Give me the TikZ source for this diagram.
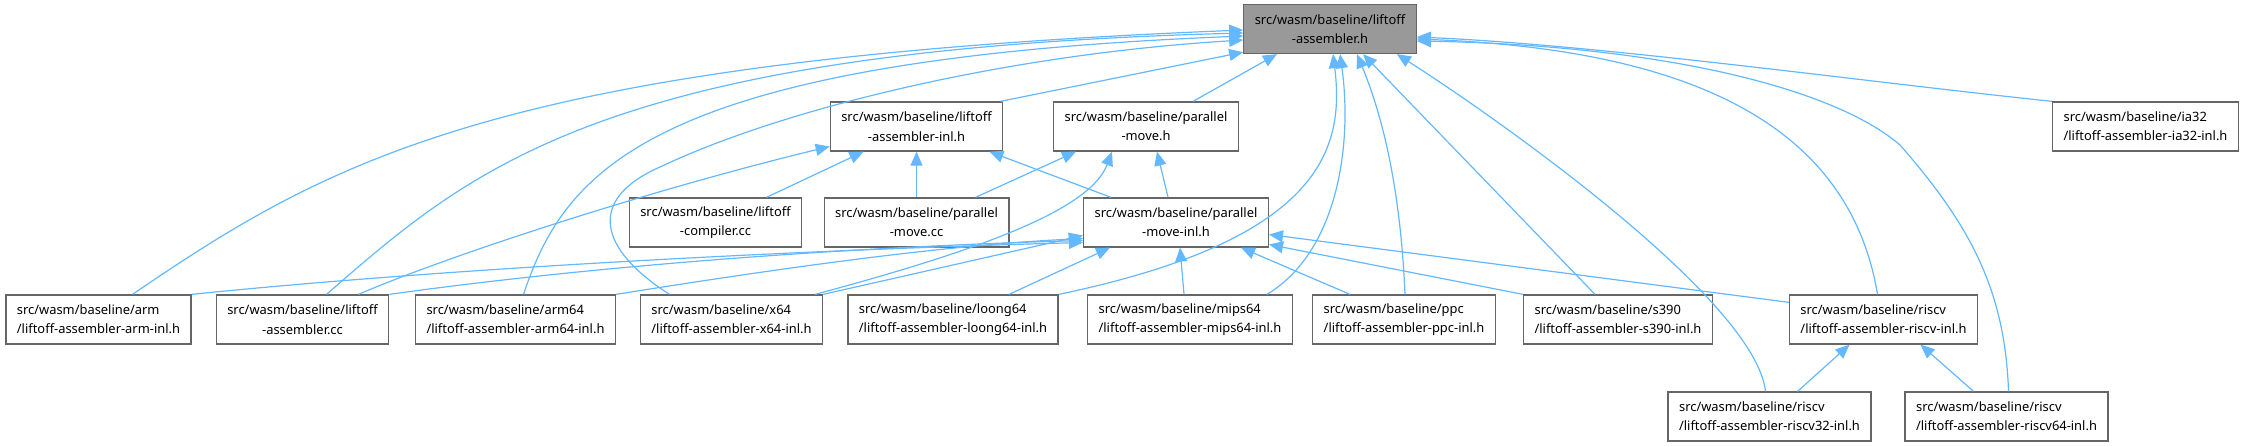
\documentclass[tikz,border=0pt]{standalone}
\usepackage{fontspec}
\setmainfont{Noto Sans}
\usepackage{tikz}
\usetikzlibrary{arrows.meta,positioning,calc}
\definecolor{edgeblue}{HTML}{63B8FF}
\definecolor{boxgray}{HTML}{666666}
\definecolor{rootgray}{HTML}{999999}
\tikzset{
  block/.style={draw=boxgray, rectangle, line width=0.65pt, fill=white, minimum height=24.5pt, inner xsep=5.5pt, inner ysep=2pt, font=\fontsize{6.45}{9.65}\selectfont},
  cblock/.style={block, align=center},
  lblock/.style={block, align=left},
  arr/.style={-{Triangle[length=7pt,width=6pt]}, draw=edgeblue, line width=0.6pt},
}

\begin{document}
\begin{tikzpicture}[x=0.5pt, y=-0.5pt]
\useasboundingbox (0,0) rectangle (2246,446);
% header
\node[cblock, fill=rootgray] (root) at (1330,29) {src/wasm/baseline/liftoff\\-assembler.h};
% second row
\node[cblock] (inl) at (916.5,126.5) {src/wasm/baseline/liftoff\\-assembler-inl.h};
\node[cblock] (pmh) at (1146,126.5) {src/wasm/baseline/parallel\\-move.h};
\node[lblock] (ia32) at (2145.5,126.5) {src/wasm/baseline/ia32\\/liftoff-assembler-ia32-inl.h};
% third row
\node[cblock] (comp) at (715.5,222.5) {src/wasm/baseline/liftoff\\-compiler.cc};
\node[cblock] (pmcc) at (916.5,222.5) {src/wasm/baseline/parallel\\-move.cc};
\node[cblock] (pminl) at (1176,222.5) {src/wasm/baseline/parallel\\-move-inl.h};
% fourth row
\node[lblock] (arm) at (98.5,319.5) {src/wasm/baseline/arm\\/liftoff-assembler-arm-inl.h};
\node[cblock] (lacc) at (302.5,319.5) {src/wasm/baseline/liftoff\\-assembler.cc};
\node[lblock] (arm64) at (515.5,319.5) {src/wasm/baseline/arm64\\/liftoff-assembler-arm64-inl.h};
\node[lblock] (x64) at (731.5,319.5) {src/wasm/baseline/x64\\/liftoff-assembler-x64-inl.h};
\node[lblock] (loong) at (953,319.5) {src/wasm/baseline/loong64\\/liftoff-assembler-loong64-inl.h};
\node[lblock] (mips) at (1190,319.5) {src/wasm/baseline/mips64\\/liftoff-assembler-mips64-inl.h};
\node[lblock] (ppc) at (1404,319.5) {src/wasm/baseline/ppc\\/liftoff-assembler-ppc-inl.h};
\node[lblock] (s390) at (1618,319.5) {src/wasm/baseline/s390\\/liftoff-assembler-s390-inl.h};
\node[lblock] (rv) at (1883.5,319.5) {src/wasm/baseline/riscv\\/liftoff-assembler-riscv-inl.h};
% bottom row
\node[lblock] (rv32) at (1769.5,416.5) {src/wasm/baseline/riscv\\/liftoff-assembler-riscv32-inl.h};
\node[lblock] (rv64) at (2006.5,416.5) {src/wasm/baseline/riscv\\/liftoff-assembler-riscv64-inl.h};
% includes of the header
\draw[arr] ($(inl.north)+(84,0)$) -- ($(root.south west)+(0,-2)$);
\draw[arr] ($(pmh.north)+(47,0)$) -- ($(root.south)+(-53,0)$);
\draw[arr] (ia32.north west) .. controls (1850,80) and (1600,45) .. ($(root.east)+(0,8)$);
\draw[arr] ($(rv.north)+(-6,0)$) .. controls (1850,130) and (1700,50) .. ($(root.east)+(0,10)$);
\draw[arr] ($(rv64.north)+(2,0)$) .. controls (2005,290) and (1970,225) .. (1900,145) .. controls (1830,85) and (1650,45) .. ($(root.east)+(0,12)$);
\draw[arr] ($(rv32.north)+(-4,0)$) .. controls (1755,300) and (1500,120) .. ($(root.south east)+(-20,0)$);
\draw[arr] ($(s390.north)+(-23,0)$) -- ($(root.south)+(33,0)$);
\draw[arr] ($(ppc.north)+(1,0)$) .. controls (1400,180) and (1380,110) .. ($(root.south)+(27,0)$);
\draw[arr] ($(mips.north)+(77,0)$) .. controls (1340,250) and (1352,140) .. ($(root.south)+(10,0)$);
\draw[arr] (loong.north east) .. controls (1320,240) and (1345,150) .. ($(root.south)+(3,0)$);
\draw[arr] ($(arm.north)+(34,0)$) .. controls (330,160) and (500,60) .. ($(root.west)+(0,1)$);
\draw[arr] ($(lacc.north)+(24,0)$) .. controls (470,170) and (600,50) .. ($(root.west)+(0,4)$);
\draw[arr] ($(arm64.north)+(8,0)$) .. controls (565,170) and (650,60) .. ($(root.west)+(0,7)$);
\draw[arr] ($(x64.north)+(-62,0)$) .. controls (600,250) and (585,200) .. (660,167) .. controls (780,110) and (1000,55) .. ($(root.west)+(0,11)$);
% second row targets
\draw[arr] ($(lacc.north)+(56,0)$) .. controls (450,255) and (650,190) .. ($(inl.west)+(0,20)$);
\draw[arr] ($(comp.north)+(51,0)$) -- ($(inl.south)+(-53,0)$);
\draw[arr] (pmcc.north) -- (inl.south);
\draw[arr] ($(pminl.north)+(-65,0)$) -- ($(inl.south east)+(-14,0)$);
\draw[arr] ($(pmcc.north)+(59,0)$) -- ($(pmh.south)+(-70,0)$);
\draw[arr] ($(pminl.north)+(-8,0)$) -- ($(pmh.south)+(11,0)$);
\draw[arr] ($(x64.north east)+(-8,0)$) .. controls (980,250) and (1090,210) .. ($(pmh.south)+(-34,0)$);
% parallel-move-inl.h
\draw[arr] (arm.north east) .. controls (450,268) and (800,250) .. ($(pminl.west)+(0,20)$);
\draw[arr] (lacc.north east) .. controls (600,265) and (850,247) .. ($(pminl.west)+(0,18)$);
\draw[arr] (arm64.north east) .. controls (800,265) and (950,245) .. ($(pminl.west)+(0,16)$);
\draw[arr] (x64.north east) -- ($(pminl.west)+(0,13)$);
\draw[arr] ($(loong.north)+(56,0)$) -- ($(pminl.south)+(-66,0)$);
\draw[arr] ($(mips.north)+(-6,0)$) -- ($(pminl.south)+(4,0)$);
\draw[arr] ($(ppc.north)+(-54,0)$) -- ($(pminl.south east)+(-28,0)$);
\draw[arr] (s390.north west) -- ($(pminl.east)+(0,22)$);
\draw[arr] ($(rv.north west)+(0,8)$) -- ($(pminl.east)+(0,12)$);
% riscv
\draw[arr] ($(rv32.north)+(28,0)$) -- ($(rv.south)+(-34,0)$);
\draw[arr] ($(rv64.north)+(-33,0)$) -- ($(rv.south)+(37,0)$);
\end{tikzpicture}
\end{document}
